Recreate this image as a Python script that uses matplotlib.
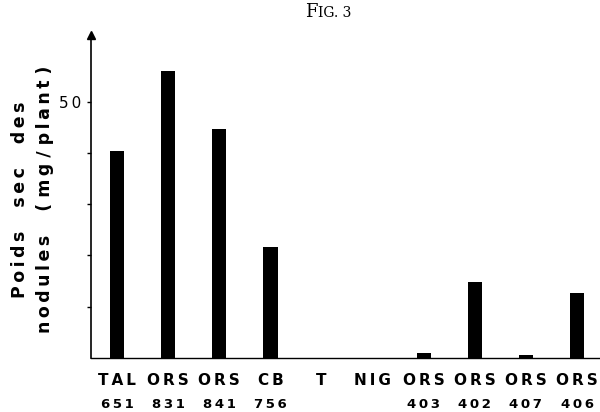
import matplotlib.pyplot as plt

# souches et poids sec des nodules (mg/plant)
noms = ["TAL", "ORS", "ORS", "CB", "T", "NIG", "ORS", "ORS", "ORS", "ORS"]
numeros = ["651", "831", "841", "756", "", "", "403", "402", "407", "406"]
poids = [40.3, 55.9, 44.7, 21.7, 0, 0, 1.0, 14.8, 0.5, 12.7]

ts = "\u2009"  # espace fine pour écarter les lettres

fig = plt.figure(figsize=(6, 4.12), dpi=100)
ax = fig.add_axes([91 / 600, 54 / 412, 509 / 600, 323 / 412])

positions = range(len(poids))
ax.bar(positions, poids, width=0.28, color="black")

ax.set_xlim(-0.51, 9.45)
ax.set_ylim(0, 63)

# axes
ax.spines["top"].set_visible(False)
ax.spines["right"].set_visible(False)
ax.spines["left"].set_linewidth(1.2)
ax.spines["bottom"].set_linewidth(1.0)
ax.plot(0, 1, marker="^", color="black", markersize=6, transform=ax.transAxes, clip_on=False)

ax.set_yticks([10, 20, 30, 40, 50])
ax.set_yticklabels(["", "", "", "", "5" + ts + "0"], fontsize=11)
ax.tick_params(axis="y", direction="out", length=3, width=1, pad=4)
ax.set_xticks([])

# étiquettes sous l'axe
for p, nom, num in zip(positions, noms, numeros):
    ax.text(p, -4.3, ts.join(nom), ha="center", va="center", fontsize=11, fontweight="bold",
            family="DejaVu Sans")
    ax.text(p, -9.0, ts.join(num), ha="center", va="center", fontsize=9.5, fontweight="bold",
            family="DejaVu Sans")

# titre de l'axe y
fig.text(20 / 600, 1 - 200 / 412, ts.join("Poids") + "    " + ts.join("sec") + "    " + ts.join("des"),
         rotation=90, ha="center", va="center", fontsize=12.5, fontweight="bold")
fig.text(45 / 600, 1 - 199 / 412,
         ts.join("nodules") + "    ( " + ts.join("mg") + " / " + ts.join("plant") + " )",
         rotation=90, ha="center", va="center", fontsize=12.5, fontweight="bold")

# Fig. 3
fig.text(318 / 600, 1 - 17 / 412, "F", ha="right", va="baseline", fontsize=13, family="DejaVu Serif")
fig.text(318 / 600, 1 - 17 / 412, "IG. 3", ha="left", va="baseline", fontsize=10, family="DejaVu Serif")

fig.savefig("out.png", dpi=100)
